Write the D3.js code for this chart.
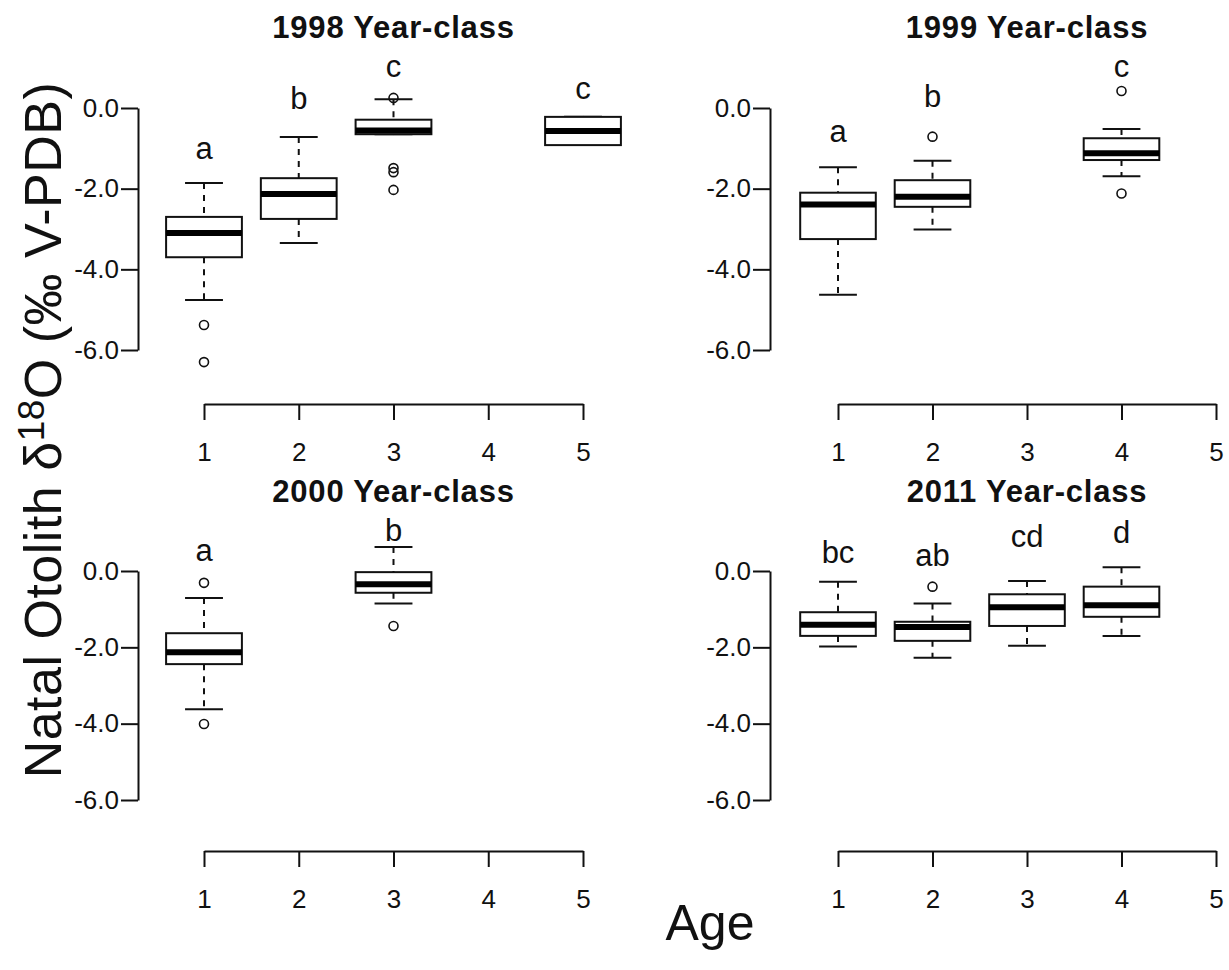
<!DOCTYPE html>
<html>
<head>
<meta charset="utf-8">
<script src="https://cdn.jsdelivr.net/npm/d3@7"></script>
<style>
  body { margin: 0; background: #fff; }
  text { font-family: "Liberation Sans", Arial, sans-serif; fill: #111; }
</style>
</head>
<body>
<div id="container"></div>
<script>
// values: [age, lowWhisker, q1, median, q3, highWhisker]
const panelTitles = ["1998 Year-class", "1999 Year-class", "2000 Year-class", "2011 Year-class"];
const xTicks = [1, 2, 3, 4, 5];
const yTicks = [0, -2, -4, -6];

const box1998 = [[1, -4.76, -3.70, -3.10, -2.70, -1.86], [2, -3.35, -2.75, -2.13, -1.74, -0.72],
                 [3, -0.65, -0.65, -0.56, -0.29, 0.22], [5, -0.92, -0.92, -0.57, -0.22, -0.22]];
const out1998 = [[1, -5.38], [1, -6.30], [3, 0.25], [3, -1.49], [3, -1.59], [3, -2.03]];
const lett1998 = [["a", 1, -1.04], ["b", 2, 0.20], ["c", 3, 0.99], ["c", 5, 0.45]];

const box1999 = [[1, -4.63, -3.25, -2.39, -2.10, -1.47], [2, -3.01, -2.45, -2.20, -1.79, -1.31],
                 [4, -1.69, -1.29, -1.12, -0.75, -0.52]];
const out1999 = [[2, -0.71], [4, 0.42], [4, -2.12]];
const lett1999 = [["a", 1, -0.62], ["b", 2, 0.25], ["c", 4, 0.99]];

const box2000 = [[1, -3.62, -2.44, -2.13, -1.63, -0.71], [3, -0.85, -0.57, -0.35, -0.03, 0.63]];
const out2000 = [[1, -0.31], [1, -4.01], [3, -1.44]];
const lett2000 = [["a", 1, 0.51], ["b", 3, 1.03]];

const box2011 = [[1, -1.98, -1.70, -1.41, -1.08, -0.28], [2, -2.27, -1.83, -1.47, -1.33, -0.85],
                 [3, -1.96, -1.44, -0.95, -0.61, -0.26], [4, -1.70, -1.20, -0.90, -0.41, 0.10]];
const out2011 = [[2, -0.41]];
const lett2011 = [["bc", 1, 0.46], ["ab", 2, 0.37], ["cd", 3, 0.86], ["d", 4, 0.99]];

const boxes = [box1998, box1999, box2000, box2011];
const outliers = [out1998, out1999, out2000, out2011];
const letters = [lett1998, lett1999, lett2000, lett2011];

// layout
const cols = [{axisX: 138, x1: 204, x5: 583}, {axisX: 770, x1: 838, x5: 1216}];
const rows = [{y0: 108, y6: 350, axisY: 404, titleY: 27}, {y0: 571, y6: 800, axisY: 851, titleY: 491}];

let svg = d3.select("#container")
  .append("svg")
    .attr("width", 1229)
    .attr("height", 970);

panelTitles.forEach(function(title, p){
  let col = cols[p % 2], row = rows[Math.floor(p / 2)];
  let x = d3.scaleLinear().domain([1, 5]).range([col.x1, col.x5]);
  let y = d3.scaleLinear().domain([-6, 0]).range([row.y6, row.y0]);
  let halfW = (x(2) - x(1)) * 0.4;
  let g = svg.append("g");

  // y axis
  let yAxis = g.append("g")
    .attr("transform", "translate(" + col.axisX + ",0)")
    .call(d3.axisLeft(y).tickValues(yTicks).tickSize(17).tickSizeOuter(0).tickPadding(2)
      .tickFormat(d => d.toFixed(1)));
  // x axis
  let xAxis = g.append("g")
    .attr("transform", "translate(0," + row.axisY + ")")
    .call(d3.axisBottom(x).tickValues(xTicks).tickSize(16).tickSizeOuter(0).tickPadding(23)
      .tickFormat(d3.format("d")));
  [yAxis, xAxis].forEach(function(a){
    a.selectAll("path, line").attr("stroke", "#111").attr("stroke-width", 2);
    a.selectAll("text").attr("font-size", 26).attr("fill", "#111")
      .attr("font-family", "Liberation Sans, Arial, sans-serif");
  });

  // title
  g.append("text")
    .attr("x", x(3))
    .attr("y", row.titleY)
    .attr("dy", "0.36em")
    .attr("text-anchor", "middle")
    .attr("font-size", 31)
    .attr("letter-spacing", 0.8)
    .attr("font-weight", "bold")
    .text(title);

  let b = g.selectAll(".box").data(boxes[p]).enter().append("g").attr("class", "box");

  // whiskers (dashed)
  b.append("line")
    .attr("x1", d => x(d[0])).attr("x2", d => x(d[0]))
    .attr("y1", d => y(d[5])).attr("y2", d => y(d[4]))
    .attr("stroke", "#111").attr("stroke-width", 2).attr("stroke-dasharray", "6,6");
  b.append("line")
    .attr("x1", d => x(d[0])).attr("x2", d => x(d[0]))
    .attr("y1", d => y(d[2])).attr("y2", d => y(d[1]))
    .attr("stroke", "#111").attr("stroke-width", 2).attr("stroke-dasharray", "6,6");
  // staples
  [1, 5].forEach(function(k){
    b.append("line")
      .attr("x1", d => x(d[0]) - halfW / 2).attr("x2", d => x(d[0]) + halfW / 2)
      .attr("y1", d => y(d[k])).attr("y2", d => y(d[k]))
      .attr("stroke", "#111").attr("stroke-width", 2);
  });
  // box
  b.append("rect")
    .attr("x", d => x(d[0]) - halfW)
    .attr("width", halfW * 2)
    .attr("y", d => y(d[4]))
    .attr("height", d => y(d[2]) - y(d[4]))
    .attr("fill", "#fff").attr("stroke", "#111").attr("stroke-width", 2);
  // median
  b.append("line")
    .attr("x1", d => x(d[0]) - halfW).attr("x2", d => x(d[0]) + halfW)
    .attr("y1", d => y(d[3])).attr("y2", d => y(d[3]))
    .attr("stroke", "#000").attr("stroke-width", 6);

  // outliers
  g.selectAll(".out").data(outliers[p]).enter().append("circle")
    .attr("class", "out")
    .attr("cx", d => x(d[0]))
    .attr("cy", d => y(d[1]))
    .attr("r", 4.5)
    .attr("fill", "none").attr("stroke", "#111").attr("stroke-width", 1.6);

  // significance letters
  g.selectAll(".lett").data(letters[p]).enter().append("text")
    .attr("class", "lett")
    .attr("x", d => x(d[1]))
    .attr("y", d => y(d[2]))
    .attr("dy", "0.3em")
    .attr("text-anchor", "middle")
    .attr("font-size", 31)
    .text(d => d[0]);
});

// shared axis labels
let ylab = svg.append("text")
  .attr("transform", "translate(61,430) rotate(-90)")
  .attr("text-anchor", "middle")
  .attr("font-size", 52)
  .attr("letter-spacing", 0.5);
ylab.append("tspan").text("Natal Otolith \u03b4");
ylab.append("tspan").attr("font-size", 37).attr("baseline-shift", "17").text("18");
ylab.append("tspan").text("O (\u2030 V-PDB)");

svg.append("text")
  .attr("x", 710)
  .attr("y", 940)
  .attr("text-anchor", "middle")
  .attr("font-size", 50)
  .text("Age");
</script>
</body>
</html>
